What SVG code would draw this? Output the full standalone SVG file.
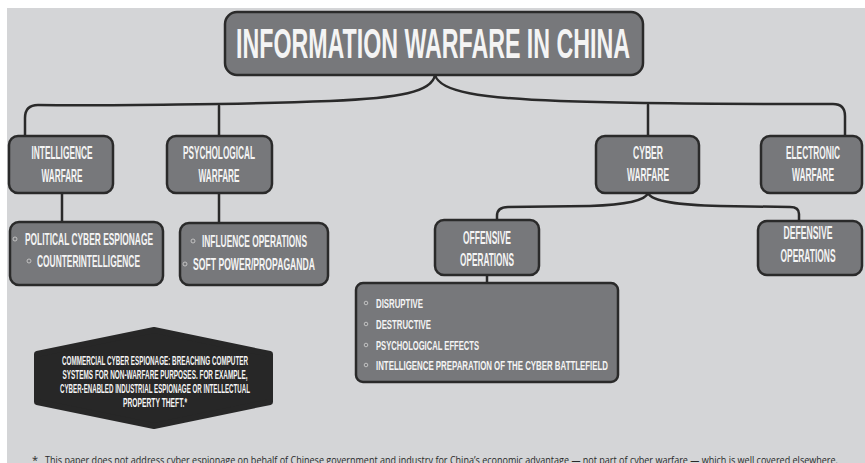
<svg xmlns="http://www.w3.org/2000/svg" width="865" height="463" viewBox="0 0 865 463">
<style>
.box{fill:#77787b;stroke:#2a2a2a;stroke-width:2.5}
.t{font-family:"Liberation Sans Narrow","Liberation Sans",Arial,sans-serif;font-weight:bold;fill:#f4f4f4;text-anchor:middle}
.l{font-family:"Liberation Sans Narrow","Liberation Sans",Arial,sans-serif;font-weight:bold;fill:#f4f4f4}
.b{fill:none;stroke:#c8c8c8;stroke-width:0.9}
.c{fill:none;stroke:#2a2a2a;stroke-width:2.5;stroke-linecap:round}
</style>
<rect x="0" y="0" width="865" height="463" fill="#ffffff"/>
<rect x="7" y="8" width="858" height="455" fill="#d4d5d7"/>

<g id="connectors">
<path class="c" d="M435,75 C432,92 400,98 330,101 C250,104 100,106 38,105 Q25,105 25,118 L25,136"/>
<path class="c" d="M435,75 C440,92 480,98 560,101 C640,104 760,104 833,104 Q845,104 845,116 L845,136"/>
<path class="c" d="M219,106 L219,136"/>
<path class="c" d="M648,105 L648,136"/>
<path class="c" d="M62,193 L62,222"/>
<path class="c" d="M219,193 L219,223"/>
<path class="c" d="M648,193 C645,202 620,205 590,206 L508,207 Q497,207 497,216 L497,220"/>
<path class="c" d="M648,193 C652,202 680,205 720,206 L790,207 Q799,207 799,214 L799,221"/>
<path class="c" d="M487,275 L487,283"/>
</g>

<g id="title">
<rect class="box" x="225" y="12" width="418" height="63" rx="12"/>
<text class="t" x="433" y="58" font-size="43" textLength="394" lengthAdjust="spacingAndGlyphs">INFORMATION WARFARE IN CHINA</text>
</g>

<g id="intelligence">
<rect class="box" x="9" y="136" width="104" height="57" rx="9"/>
<text class="t" x="62" y="159" font-size="17.5" textLength="61" lengthAdjust="spacingAndGlyphs">INTELLIGENCE</text>
<text class="t" x="62" y="182" font-size="17.5" textLength="41" lengthAdjust="spacingAndGlyphs">WARFARE</text>
</g>

<g id="psychological">
<rect class="box" x="167" y="136" width="105" height="57" rx="9"/>
<text class="t" x="219" y="159" font-size="17.5" textLength="72" lengthAdjust="spacingAndGlyphs">PSYCHOLOGICAL</text>
<text class="t" x="219" y="182" font-size="17.5" textLength="41" lengthAdjust="spacingAndGlyphs">WARFARE</text>
</g>

<g id="cyber">
<rect class="box" x="596" y="136" width="103" height="57" rx="9"/>
<text class="t" x="648" y="159" font-size="17.5" textLength="30" lengthAdjust="spacingAndGlyphs">CYBER</text>
<text class="t" x="648" y="181" font-size="17.5" textLength="42" lengthAdjust="spacingAndGlyphs">WARFARE</text>
</g>

<g id="electronic">
<rect class="box" x="761" y="136" width="101" height="57" rx="9"/>
<text class="t" x="813" y="159" font-size="17.5" textLength="54" lengthAdjust="spacingAndGlyphs">ELECTRONIC</text>
<text class="t" x="813" y="181" font-size="17.5" textLength="42" lengthAdjust="spacingAndGlyphs">WARFARE</text>
</g>

<g id="intel-list">
<rect class="box" x="10" y="222" width="153" height="63" rx="9"/>
<circle class="b" cx="15" cy="239" r="2"/>
<text class="l" x="25" y="245" font-size="17" textLength="128" lengthAdjust="spacingAndGlyphs">POLITICAL CYBER ESPIONAGE</text>
<circle class="b" cx="29" cy="261" r="2"/>
<text class="l" x="37" y="267" font-size="17" textLength="103" lengthAdjust="spacingAndGlyphs">COUNTERINTELLIGENCE</text>
</g>

<g id="psych-list">
<rect class="box" x="180" y="223" width="148" height="62" rx="9"/>
<circle class="b" cx="193" cy="241" r="2"/>
<text class="l" x="202" y="247" font-size="17" textLength="105" lengthAdjust="spacingAndGlyphs">INFLUENCE OPERATIONS</text>
<circle class="b" cx="185" cy="264" r="2"/>
<text class="l" x="193" y="270" font-size="17" textLength="122" lengthAdjust="spacingAndGlyphs">SOFT POWER/PROPAGANDA</text>
</g>

<g id="offensive">
<rect class="box" x="435" y="220" width="104" height="55" rx="9"/>
<text class="t" x="487" y="244" font-size="17.5" textLength="48" lengthAdjust="spacingAndGlyphs">OFFENSIVE</text>
<text class="t" x="487" y="266" font-size="17.5" textLength="54" lengthAdjust="spacingAndGlyphs">OPERATIONS</text>
</g>

<g id="defensive">
<rect class="box" x="758" y="221" width="104" height="54" rx="9"/>
<text class="t" x="808" y="239" font-size="17.5" textLength="49" lengthAdjust="spacingAndGlyphs">DEFENSIVE</text>
<text class="t" x="808" y="262" font-size="17.5" textLength="55" lengthAdjust="spacingAndGlyphs">OPERATIONS</text>
</g>

<g id="offensive-list">
<rect class="box" x="356" y="283" width="262" height="99" rx="7"/>
<circle class="b" cx="366" cy="303" r="1.8"/>
<text class="l" x="376" y="308" font-size="13.5" textLength="47" lengthAdjust="spacingAndGlyphs">DISRUPTIVE</text>
<circle class="b" cx="366" cy="324" r="1.8"/>
<text class="l" x="376" y="329" font-size="13.5" textLength="55" lengthAdjust="spacingAndGlyphs">DESTRUCTIVE</text>
<circle class="b" cx="366" cy="345" r="1.8"/>
<text class="l" x="376" y="350" font-size="13.5" textLength="103" lengthAdjust="spacingAndGlyphs">PSYCHOLOGICAL EFFECTS</text>
<circle class="b" cx="366" cy="365" r="1.8"/>
<text class="l" x="376" y="370" font-size="13.5" textLength="232" lengthAdjust="spacingAndGlyphs">INTELLIGENCE PREPARATION OF THE CYBER BATTLEFIELD</text>
</g>

<g id="commercial">
<path d="M154,330 L270,354 L270,402 L154,426 L37,402 L37,354 Z" fill="#272727" stroke="#272727" stroke-width="6" stroke-linejoin="round"/>
<text class="t" x="155" y="365" font-size="12.5" textLength="186" lengthAdjust="spacingAndGlyphs">COMMERCIAL CYBER ESPIONAGE: BREACHING COMPUTER</text>
<text class="t" x="155" y="379" font-size="12.5" textLength="185" lengthAdjust="spacingAndGlyphs">SYSTEMS FOR NON-WARFARE PURPOSES. FOR EXAMPLE,</text>
<text class="t" x="155" y="393" font-size="12.5" textLength="190" lengthAdjust="spacingAndGlyphs">CYBER-ENABLED INDUSTRIAL ESPIONAGE OR INTELLECTUAL</text>
<text class="t" x="155" y="407" font-size="12.5" textLength="64" lengthAdjust="spacingAndGlyphs">PROPERTY THEFT.*</text>
</g>

<g id="footnote">
<text x="32" y="464" font-family="'Open Sans','Liberation Sans',sans-serif" font-size="11" fill="#2a2a2a">*</text>
<text x="45" y="464" font-family="'Open Sans','Liberation Sans',sans-serif" font-size="11" fill="#2a2a2a" textLength="793" lengthAdjust="spacingAndGlyphs">This paper does not address cyber espionage on behalf of Chinese government and industry for China’s economic advantage — not part of cyber warfare — which is well covered elsewhere.</text>
</g>
</svg>
